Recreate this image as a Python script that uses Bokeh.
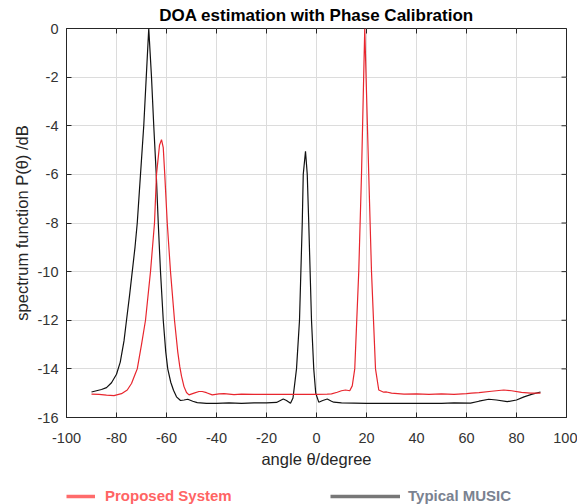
import math
from bokeh.plotting import figure
from bokeh.models import Legend, LegendItem, Range1d
from bokeh.layouts import column
from bokeh.embed import file_html
from bokeh.resources import INLINE

# ---- data ----
music_angle = [-90, -88, -86, -84, -82, -80, -78.5, -77, -76, -74.8, -73.7, -72.6, -71.7,
               -70.4, -69.1, -68.1, -67.1, -66.0, -65.1, -64.1, -63.3, -62.4, -61.3, -60.3,
               -59.5, -58.3, -57.2, -56, -54.4, -53, -51.5, -49.5, -47.7, -44, -40, -35, -30,
               -25, -20, -16, -13.3, -12, -10.4, -9.4, -8.0, -6.8, -5.7, -5.3, -4.4, -3.7,
               -3.1, -2.0, -1.1, -0.3, 0.9, 2.5, 4.3, 6.0, 6.9, 10, 20, 30, 40, 50, 55, 61.6,
               65, 68.9, 72, 76.3, 80, 83, 86, 89.6]
music_db = [-14.95, -14.9, -14.85, -14.77, -14.57, -14.22, -13.72, -12.85, -12.0, -11.0,
            -10.0, -9.0, -8.0, -6.0, -4.0, -2.0, 0.0, -2.0, -4.0, -6.0, -8.0, -10.0, -12.0,
            -13.3, -14.0, -14.55, -14.88, -15.15, -15.3, -15.28, -15.25, -15.33, -15.39,
            -15.42, -15.42, -15.4, -15.42, -15.4, -15.4, -15.38, -15.24, -15.3, -15.41,
            -15.2, -14.0, -12.0, -8.0, -6.0, -5.05, -6.0, -8.0, -12.0, -14.0, -15.0, -15.37,
            -15.3, -15.24, -15.33, -15.37, -15.4, -15.42, -15.42, -15.42, -15.42, -15.4,
            -15.41, -15.33, -15.25, -15.28, -15.35, -15.28, -15.15, -15.05, -14.95]

proposed_angle = [-90, -87, -84, -81, -78, -75.7, -74, -72.4, -71.7, -70, -68.4, -66.4, -64.8,
                  -64, -63.3, -62.8, -62, -61.3, -60.7, -59.7, -58.4, -56.8, -55.5, -54.7, -54,
                  -53, -52, -51, -49, -47, -45.7, -44, -41.7, -39, -37, -33, -30, -25, -20,
                  -15, -10, -5, 0, 4.3, 6, 8.3, 10, 11.6, 13.3, 14.3, 15.3, 16.9, 18.0, 19.3,
                  20.9, 22.0, 23.6, 24.9, 26.9, 28, 30, 35, 40, 45, 50, 55, 60, 62, 65, 70,
                  74.9, 78, 82, 85.6, 89.6]
proposed_db = [-15.04, -15.05, -15.08, -15.1, -15.02, -14.87, -14.6, -14.18, -14.0, -13.0,
               -12.0, -10.0, -8.0, -6.0, -5.3, -4.8, -4.57, -4.9, -6.0, -8.0, -10.0, -12.0,
               -13.3, -13.9, -14.3, -14.73, -14.97, -15.07, -15.0, -14.93, -14.93, -14.98,
               -15.07, -15.03, -15.02, -15.06, -15.04, -15.05, -15.05, -15.05, -15.05, -15.05,
               -15.05, -15.04, -15.03, -14.96, -14.9, -14.87, -14.9, -14.7, -14.0, -10.0,
               -6.0, 0.0, -6.0, -10.0, -14.0, -14.87, -14.96, -14.95, -15.0, -15.04, -15.03,
               -15.05, -15.03, -15.05, -15.02, -15.0, -14.98, -14.92, -14.87, -14.9, -14.97,
               -15.0, -15.0]

x_ticks = [-100, -80, -60, -40, -20, 0, 20, 40, 60, 80, 100]
x_tick_labels = ["-100", "-80", "-60", "-40", "-20", "0", "20", "40", "60", "80", "100"]
y_ticks = [-16, -14, -12, -10, -8, -6, -4, -2, 0]
y_tick_labels = ["-16", "-14", "-12", "-10", "-8", "-6", "-4", "-2", "0"]

series_names = ["Proposed System", "Typical MUSIC"]
title_text = "DOA estimation with Phase Calibration"
x_label = "angle \u03b8/degree"
y_label = "spectrum function P(\u03b8) /dB"

FONT = "Liberation Sans"
AX = "#262626"
NAN = float("nan")

p = figure(frame_width=500, frame_height=389, x_range=Range1d(-100, 100),
           y_range=Range1d(-16, 0), output_backend="svg", toolbar_location=None,
           min_border_left=66, min_border_right=11, min_border_top=0,
           min_border_bottom=56, background_fill_color="white",
           border_fill_color="white")

p.title.text = title_text
p.title.align = "center"
p.title.text_font = FONT
p.title.text_font_size = "17px"
p.title.text_font_style = "bold"
p.title.text_color = "#000000"
p.title.standoff = 7

p.outline_line_color = AX
p.outline_line_width = 1
p.outline_line_alpha = 1

p.xaxis.ticker = x_ticks
p.yaxis.ticker = y_ticks
p.xaxis.major_label_overrides = dict(zip(x_ticks, x_tick_labels))
p.yaxis.major_label_overrides = dict(zip(y_ticks, y_tick_labels))

for ax in (p.xaxis[0], p.yaxis[0]):
    ax.axis_line_color = AX
    ax.major_tick_in = 5
    ax.major_tick_out = 0
    ax.minor_tick_line_color = None
    ax.major_tick_line_color = AX
    ax.major_label_text_font = FONT
    ax.major_label_text_font_size = "14.5px"
    ax.major_label_text_color = "#333333"
    ax.axis_label_text_font = FONT
    ax.axis_label_text_font_size = "16.5px"
    ax.axis_label_text_font_style = "normal"
    ax.axis_label_text_color = "#262626"

p.xaxis.axis_label = x_label
p.yaxis.axis_label = y_label
p.xaxis.major_label_standoff = 15
p.yaxis.major_label_standoff = 8
p.xaxis.axis_label_standoff = 4
p.yaxis.axis_label_standoff = 4

p.xgrid.grid_line_color = "#dcdcdc"
p.ygrid.grid_line_color = "#dcdcdc"

# inward ticks on the top and right edges (half of each dash is clipped by the frame)
p.scatter(x=x_ticks, y=[p.y_range.end] * len(x_ticks), marker="dash", angle=math.pi / 2,
          size=10, line_color=AX, line_width=1)
p.scatter(x=[p.x_range.end] * len(y_ticks), y=y_ticks, marker="dash",
          size=10, line_color=AX, line_width=1)

p.line(music_angle, music_db, line_color="#111111", line_width=1.2)
p.line(proposed_angle, proposed_db, line_color="#e8262e", line_width=1.2)

# ---- legend strip below the plot (its frame lines up with the plot frame) ----
lf = figure(width=577, height=31, output_backend="svg", toolbar_location=None,
            x_axis_location=None, y_axis_location=None, min_border=0,
            x_range=Range1d(0, 1), y_range=Range1d(0, 1),
            outline_line_color=None, background_fill_color="white",
            border_fill_color="white")
lf.xgrid.visible = False
lf.ygrid.visible = False
r_leg_prop = lf.line(x=[NAN], y=[NAN], line_color="#ff6b6b", line_width=3.5)
r_leg_music = lf.line(x=[NAN], y=[NAN], line_color="#777777", line_width=3.5)

leg1 = Legend(items=[LegendItem(label=series_names[0], renderers=[r_leg_prop])],
              location=(0, 0), glyph_width=29, glyph_height=16, label_standoff=10,
              label_text_font=FONT, label_text_font_style="bold", label_text_font_size="15px",
              label_text_color="#ff6464", padding=0, margin=0, spacing=0,
              border_line_alpha=0, background_fill_alpha=0)
leg2 = Legend(items=[LegendItem(label=series_names[1], renderers=[r_leg_music])],
              location=(264, 0), glyph_width=70, glyph_height=16, label_standoff=8,
              label_text_font=FONT, label_text_font_style="bold", label_text_font_size="15px",
              label_text_color="#7a8290", padding=0, margin=0, spacing=0,
              border_line_alpha=0, background_fill_alpha=0)
lf.add_layout(leg1)
lf.add_layout(leg2)

layout = column(p, lf, spacing=0)
open("out.html", "w").write(file_html(layout, INLINE))
